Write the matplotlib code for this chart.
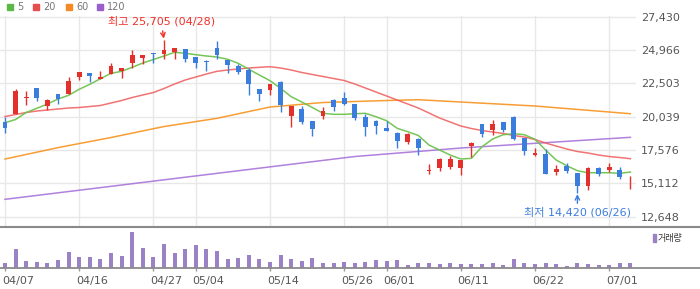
import numpy as np
import matplotlib.pyplot as plt
from matplotlib.patches import Rectangle

plt.rcParams['font.family'] = ['DejaVu Sans', 'Noto Sans CJK KR']

# daily candles, index 0 = 04/07
opens = [19645, 20214, 21440, 22158, 20827, 21714, 21714, 22993, 23267, 22823,
         23193, 23437, 24028, 24398, 24760, 24693, 24819, 25040, 24449, 24154,
         25114, 24228, 23784, 23489, 22085, 22033, 22601, 20111, 20605, 19719,
         20111, 21271, 21419, 20975, 20015, 19719, 19202, 18832, 18189, 18389,
         16000, 16268, 16319, 16245, 17893, 19498, 19076, 19645, 20015, 18463,
         17228, 17280, 15972, 16393, 15876, 14915, 16245, 16098, 16098, 15620]
highs = [20015, 22062, 21936, 22158, 21345, 21714, 22971, 23341, 23267, 23415,
         24006, 23637, 24966, 24597, 24760, 25705, 25092, 25040, 24449, 24228,
         25650, 24228, 23932, 23637, 22085, 22454, 22675, 20827, 20827, 19719,
         20753, 21345, 21862, 20975, 20214, 19793, 19719, 18906, 18832, 18463,
         16563, 16985, 17133, 16837, 18167, 19498, 19793, 19645, 20088, 18463,
         17724, 17650, 16467, 16615, 15876, 16319, 16319, 16615, 16319, 15654]
lows = [18854, 20214, 20924, 21220, 20532, 20975, 21714, 22749, 22623, 22823,
        23193, 22919, 23658, 23954, 24028, 24324, 24324, 24102, 23658, 23437,
        24324, 23289, 23215, 21663, 21220, 21663, 20406, 19298, 19520, 18633,
        19889, 20480, 20879, 19793, 18633, 18780, 19002, 17745, 18041, 17228,
        15802, 16046, 16194, 15728, 17058, 18558, 18706, 18928, 18337, 17228,
        17154, 15825, 15750, 15898, 14420, 14641, 15676, 15950, 15454, 14715]
closes = [19224, 21936, 21490, 21441, 21293, 21367, 22675, 23341, 23067, 22971,
          23784, 23637, 24597, 24597, 24700, 24966, 25092, 24324, 24028, 24058,
          24597, 23880, 23341, 22476, 21737, 22454, 20924, 20827, 19668, 19150,
          20458, 20776, 20997, 19963, 19298, 19372, 19002, 18219, 18758, 17745,
          16050, 16911, 16911, 16837, 18093, 18780, 19498, 19076, 18389, 17524,
          17354, 15825, 16171, 16024, 14915, 16245, 15825, 16319, 15602, 15654]
volume = [160, 580, 220, 190, 160, 250, 490, 340, 340, 280,
          460, 370, 1090, 610, 340, 730, 460, 580, 700, 580,
          520, 280, 310, 400, 280, 190, 400, 280, 220, 310,
          160, 160, 190, 160, 190, 250, 220, 250, 100, 160,
          160, 130, 160, 130, 130, 130, 160, 100, 280, 160,
          130, 160, 130, 70, 160, 130, 100, 100, 160, 160]

ma5 = [19593, 19830, 20347, 20658, 20975, 21345, 21618, 22062, 22431, 22845,
       23244, 23392, 23688, 24006, 24264, 24523, 24797, 24723, 24619, 24523,
       24449, 24279, 23984, 23540, 23119, 22697, 22136, 21515, 21123, 20717,
       20288, 20214, 20214, 20258, 20288, 20037, 19741, 19179, 18928, 18647,
       17945, 17575, 17206, 16910, 16962, 17819, 18389, 18706, 18780, 18706,
       18366, 17575, 16836, 16415, 16046, 15898, 15898, 15898, 15853, 15949]
ma20 = [20051, 20199, 20347, 20458, 20532, 20606, 20680, 20717, 20791, 20865,
        21049, 21234, 21456, 21641, 21825, 22121, 22454, 22749, 22971, 23193,
        23392, 23488, 23562, 23636, 23688, 23732, 23636, 23488, 23304, 23156,
        23008, 22860, 22712, 22454, 22158, 21862, 21567, 21271, 20975, 20680,
        20310, 19941, 19645, 19349, 19165, 19017, 18906, 18795, 18647, 18536,
        18351, 18093, 17871, 17649, 17465, 17354, 17206, 17095, 17021, 16932]
ma60_idx = [0, 5, 10, 15, 20, 25, 30, 36, 39, 43, 50, 59]
ma60 = [16910, 17753, 18499, 19312, 19918, 20754, 21086, 21234, 21293, 21123, 20828, 20258]
ma120_idx = [0, 16, 33, 43, 50, 59]
ma120 = [13932, 15469, 17095, 17723, 18071, 18514]

tick_idx = [0, 7, 14, 18, 25, 32, 36, 43, 50, 57]
tick_labels = ['04/07', '04/16', '04/27', '05/04', '05/14', '05/26',
               '06/01', '06/11', '06/22', '07/01']
price_ticks = [12648, 15112, 17576, 20039, 22503, 24966, 27430]

RED = '#e3302b'
BLUE = '#3b7ddd'

W, H = 700, 289
fig = plt.figure(figsize=(7, 2.89), dpi=100)


def fx(px):
    return px / W


def fy(py):
    return 1 - py / H


step = 10.6
x0 = -5 / step
ax = fig.add_axes([0, fy(226.7), fx(636), fy(16) - fy(226.7)])
vax = fig.add_axes([0, fy(268.3), 1, fy(226.7) - fy(268.3)])

# price panel
x = np.arange(len(opens))
o = np.array(opens)
c = np.array(closes)
colors = np.where(c >= o, RED, BLUE)
ax.plot(ma120_idx, ma120, color='#a873da', lw=1.1, alpha=0.9, zorder=2)
ax.plot(ma60_idx, ma60, color='#f7931e', lw=1.1, alpha=0.9, zorder=2)
ax.plot(x, ma20, color='#ef5b5b', lw=1.1, alpha=0.85, zorder=2)
ax.plot(x, ma5, color='#6fc24f', lw=1.1, alpha=0.95, zorder=2)
ax.vlines(x, lows, highs, color=colors, lw=1, zorder=3)
ax.bar(x, np.maximum(np.abs(c - o), 70), 0.47, bottom=np.minimum(o, c),
       color=colors, zorder=4)

ax.set_xlim(x0, x0 + 636 / step)
ax.set_ylim(12648 - 10 * 73.91, 27430 + 0.67 * 73.91)
ax.set_xticks(tick_idx)
ax.set_yticks(price_ticks)
ax.set_yticklabels([f'{v:,}' for v in price_ticks])
ax.yaxis.tick_right()
ax.tick_params(axis='x', length=0, labelbottom=False)
ax.tick_params(axis='y', length=0, pad=3.6, labelsize=8, labelcolor='#555555')
ax.grid(color='#e8e8e8', lw=1)
ax.set_axisbelow(True)
for s in ax.spines.values():
    s.set_visible(False)

# high / low notes
ax.annotate('최고 25,705 (04/28)', xy=(15, highs[15]), xytext=(-2, 13.3),
            textcoords='offset points', ha='center', va='center',
            fontsize=8, color='#f0302a',
            arrowprops=dict(arrowstyle='->', color='#f0302a', lw=1,
                            shrinkA=1, shrinkB=1))
ax.annotate('최저 14,420 (06/26)', xy=(54, lows[54]), xytext=(0, -14.4),
            textcoords='offset points', ha='center', va='center',
            fontsize=8, color='#3b7ddd',
            arrowprops=dict(arrowstyle='->', color='#3b7ddd', lw=1,
                            shrinkA=1, shrinkB=1))

# volume panel
vax.bar(x, volume, 0.38, color='#9b82c4')
vax.set_xlim(x0, x0 + 700 / step)
vax.set_ylim(0, 1250)
vax.set_yticks([])
vax.set_xticks(tick_idx)
vax.set_xticklabels([])
vax.tick_params(axis='x', length=2.2, color='#999999', width=1)
for side in ['left', 'right']:
    vax.spines[side].set_visible(False)
vax.spines['top'].set_color('#8a8a8a')
vax.spines['top'].set_linewidth(1.5)
vax.spines['bottom'].set_color('#8a8a8a')
vax.spines['bottom'].set_linewidth(1.3)
for i, lab in zip(tick_idx, tick_labels):
    vax.annotate(lab, xy=(i, 0), xycoords=('data', 'axes fraction'),
                 xytext=(-2.2, -9.1), textcoords='offset points',
                 ha='left', va='center', fontsize=8, color='#555555',
                 annotation_clip=False)

fig.add_artist(Rectangle((fx(653.3), fy(241.7)), fx(2.4), fy(234.3) - fy(241.7),
                         transform=fig.transFigure, color='#9b82c4'))
fig.text(fx(658), fy(238.3), '거래량', fontsize=6.5, color='#333333',
         ha='left', va='center')

# moving average legend
legend = [('5', '#5ab946', 7), ('20', '#e84c4c', 33),
          ('60', '#f58a23', 66), ('120', '#9a5fcf', 97)]
for name, col, px in legend:
    fig.add_artist(Rectangle((fx(px), fy(9.5)), fx(6), fy(3.5) - fy(9.5),
                             transform=fig.transFigure, color=col))
    fig.text(fx(px + 10), fy(6.5), name, fontsize=7, color='#777777',
             ha='left', va='center')

fig.savefig('out.png', dpi=100)
